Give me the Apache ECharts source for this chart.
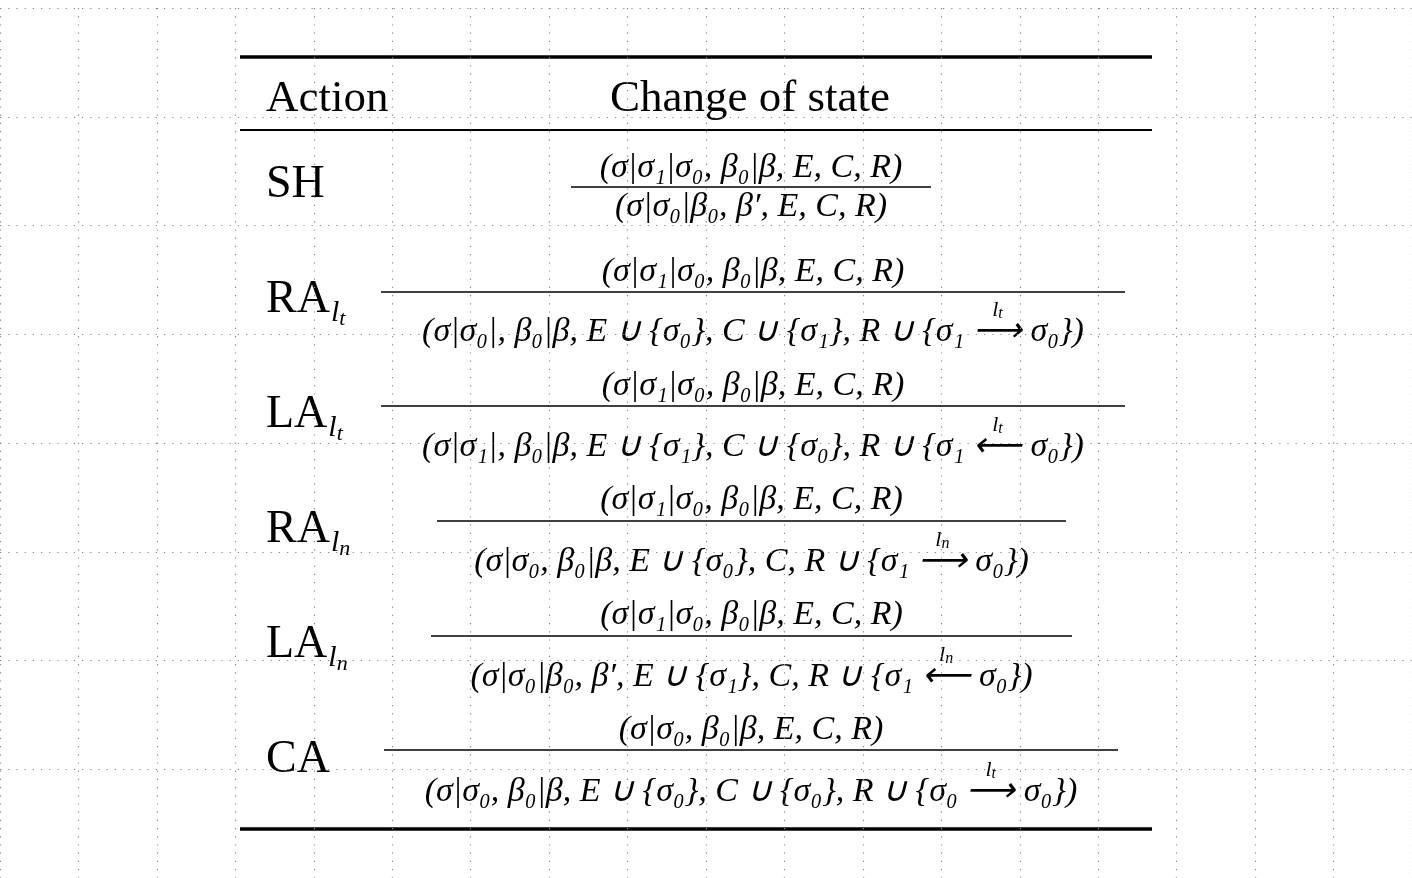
<!DOCTYPE html>
<html lang="en">
<head>
<meta charset="UTF-8">
<title>Transition table</title>
<script src="https://cdn.jsdelivr.net/npm/echarts@6/dist/echarts.min.js"></script>
<style>html,body{margin:0;background:#fff}#main{width:1412px;height:878px}</style>
</head>
<body>
<div id="main"></div>
<script>
// table content
var headers = ['Action', 'Change of state'];
var actions = ['SH', 'RA', 'LA', 'RA', 'LA', 'CA'];
var actionSubs = ['', 'l', 'l', 'l', 'l', ''];
var actionSubs2 = ['', 't', 't', 'n', 'n', ''];
var numerators = [
  '(σ|σ₁|σ₀, β₀|β, E, C, R)',
  '(σ|σ₁|σ₀, β₀|β, E, C, R)',
  '(σ|σ₁|σ₀, β₀|β, E, C, R)',
  '(σ|σ₁|σ₀, β₀|β, E, C, R)',
  '(σ|σ₁|σ₀, β₀|β, E, C, R)',
  '(σ|σ₀, β₀|β, E, C, R)'
];
var denominators = [
  '(σ|σ₀|β₀, β′, E, C, R)',
  '(σ|σ₀|, β₀|β, E ∪ {σ₀}, C ∪ {σ₁}, R ∪ {σ₁ ⟶ σ₀})',
  '(σ|σ₁|, β₀|β, E ∪ {σ₁}, C ∪ {σ₀}, R ∪ {σ₁ ⟵ σ₀})',
  '(σ|σ₀, β₀|β, E ∪ {σ₀}, C, R ∪ {σ₁ ⟶ σ₀})',
  '(σ|σ₀|β₀, β′, E ∪ {σ₁}, C, R ∪ {σ₁ ⟵ σ₀})',
  '(σ|σ₀, β₀|β, E ∪ {σ₀}, C ∪ {σ₀}, R ∪ {σ₀ ⟶ σ₀})'
];
var arrowLabels = ['', 'lt', 'lt', 'ln', 'ln', 'lt'];

// layout (pixels)
var rowNumY = [168, 272, 386, 500, 615, 730];
var rowBarY = [187, 292, 406, 521, 636, 750];
var rowDenY = [207, 332, 447, 562, 677, 792];
var rowLabelY = [185, 300, 415, 530, 645, 760];
var barX0 = [571, 381, 381, 437, 431, 384];
var barX1 = [931, 1125, 1125, 1066, 1072, 1118];

var serif = 'Liberation Serif';
var g = [];
function hline(x0, x1, y, w) {
  g.push({type: 'line', shape: {x1: x0, y1: y, x2: x1, y2: y}, style: {stroke: '#000', lineWidth: w}});
}
function txt(x, y, s, size, italic, align) {
  g.push({type: 'text', x: x, y: y, style: {text: s, fontFamily: serif, fontSize: size,
    fontStyle: italic ? 'italic' : 'normal', fill: '#000', align: align || 'center', verticalAlign: 'middle'}});
}

hline(240, 1152, 57, 3.5);
hline(240, 1152, 130, 2);
hline(240, 1152, 829, 3.5);
txt(266, 99, headers[0], 45, false, 'left');
txt(750, 99, headers[1], 45, false, 'center');

var chart = echarts.init(document.getElementById('main'));

actions.forEach(function (a, i) {
  g.push({type: 'text', x: 266, y: rowLabelY[i], style: {
    text: a + (actionSubs[i] ? '{s|' + actionSubs[i] + '}{t|' + actionSubs2[i] + '}' : ''),
    fontFamily: serif, fontSize: 46, fill: '#000', verticalAlign: 'middle',
    rich: {
      s: {fontFamily: serif, fontSize: 30, fontStyle: 'italic', padding: [26, 0, 0, 1]},
      t: {fontFamily: serif, fontSize: 22, fontStyle: 'italic', padding: [38, 0, 0, 0]}
    }}});
  var mid = (barX0[i] + barX1[i]) / 2;
  var dsize = Math.min(34, 34 * (barX1[i] - barX0[i]) / 700);
  if (i === 0) dsize = 34;
  txt(mid, rowNumY[i], numerators[i], 34, true);
  hline(barX0[i], barX1[i], rowBarY[i], 1.6);
  txt(mid, rowDenY[i], denominators[i], 34, true);
  if (arrowLabels[i]) {
    // place the label over the arrow glyph, measured from the rendered text width
    var full = echarts.format.getTextRect ? null : null;
    var s = denominators[i];
    var arrowIdx = s.search(/[⟶⟵]/);
    var font = 'italic 34px "' + serif + '"';
    var w = echarts.graphic.getTextRect ? 0 : 0;
    var cvs = document.createElement('canvas').getContext('2d');
    cvs.font = font;
    var total = cvs.measureText(s).width;
    var before = cvs.measureText(s.slice(0, arrowIdx)).width;
    var aw = cvs.measureText(s[arrowIdx]).width;
    var ax = mid - total / 2 + before + aw / 2;
    g.push({type: 'text', x: ax, y: rowDenY[i] - 22, style: {
      text: arrowLabels[i][0] + '{b|' + arrowLabels[i][1] + '}', fontFamily: serif, fontSize: 22,
      fontStyle: 'italic', fill: '#000', align: 'center', verticalAlign: 'middle',
      rich: {b: {fontFamily: serif, fontSize: 16, fontStyle: 'italic', padding: [8, 0, 0, 0]}}}});
  }
});

var dotted = {show: true, lineStyle: {type: [1.2, 7], color: '#888', width: 1.2}};
chart.setOption({
  animation: false,
  grid: {left: -19, top: 8, width: 1494, height: 894},
  xAxis: {type: 'value', min: 0, max: 18, interval: 1, axisLine: {show: false},
    axisTick: {show: false}, axisLabel: {show: false}, splitLine: dotted},
  yAxis: {type: 'value', min: 0, max: 8, interval: 1, inverse: true, axisLine: {show: false},
    axisTick: {show: false}, axisLabel: {show: false}, splitLine: dotted},
  series: [],
  graphic: g
});
</script>
</body>
</html>
